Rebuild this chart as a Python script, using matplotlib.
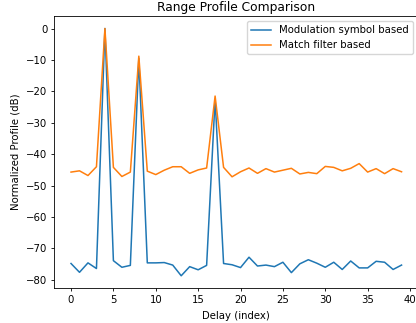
import numpy as np
import matplotlib.pyplot as plt

delay = np.arange(40)

# normalized range profiles in dB
symbol_based = [-74.8, -77.6, -74.6, -76.4, 0.0, -73.9, -76.0, -75.4, -9.5, -74.6,
                -74.6, -74.5, -75.3, -78.7, -75.8, -76.8, -75.4, -22.5, -74.8, -75.2,
                -76.1, -72.8, -75.6, -75.3, -75.8, -74.4, -77.7, -74.9, -73.6, -74.7,
                -76.0, -74.4, -76.7, -74.0, -76.2, -76.2, -74.1, -74.4, -76.7, -75.3]
filter_based = [-45.7, -45.3, -46.8, -44.0, 0.0, -44.2, -47.1, -45.7, -8.8, -45.4,
                -46.5, -45.1, -44.0, -44.0, -46.1, -45.0, -44.4, -21.5, -44.2, -47.2,
                -45.6, -44.4, -46.1, -44.6, -45.7, -45.1, -44.5, -46.3, -45.8, -46.2,
                -43.9, -44.2, -45.3, -44.5, -43.0, -45.7, -44.6, -46.2, -44.6, -45.6]

plt.rcParams['font.size'] = 7.3

fig = plt.figure(figsize=(4.16, 3.23), dpi=100)
ax = fig.add_axes([0.131, 0.108, 0.874, 0.842])

ax.plot(delay, symbol_based, lw=1.1, label="Modulation symbol based")
ax.plot(delay, filter_based, lw=1.1, label="Match filter based")

ax.set_title("Range Profile Comparison", fontsize=8.8, pad=4)
ax.set_xlabel("Delay (index)")
ax.set_ylabel("Normalized Profile (dB)")
ax.legend(loc="upper right", fontsize=7.3)
for side in ax.spines.values():
    side.set_linewidth(0.6)
ax.tick_params(width=0.6, length=2.5, pad=2.5)

fig.savefig("out.png", dpi=100)
